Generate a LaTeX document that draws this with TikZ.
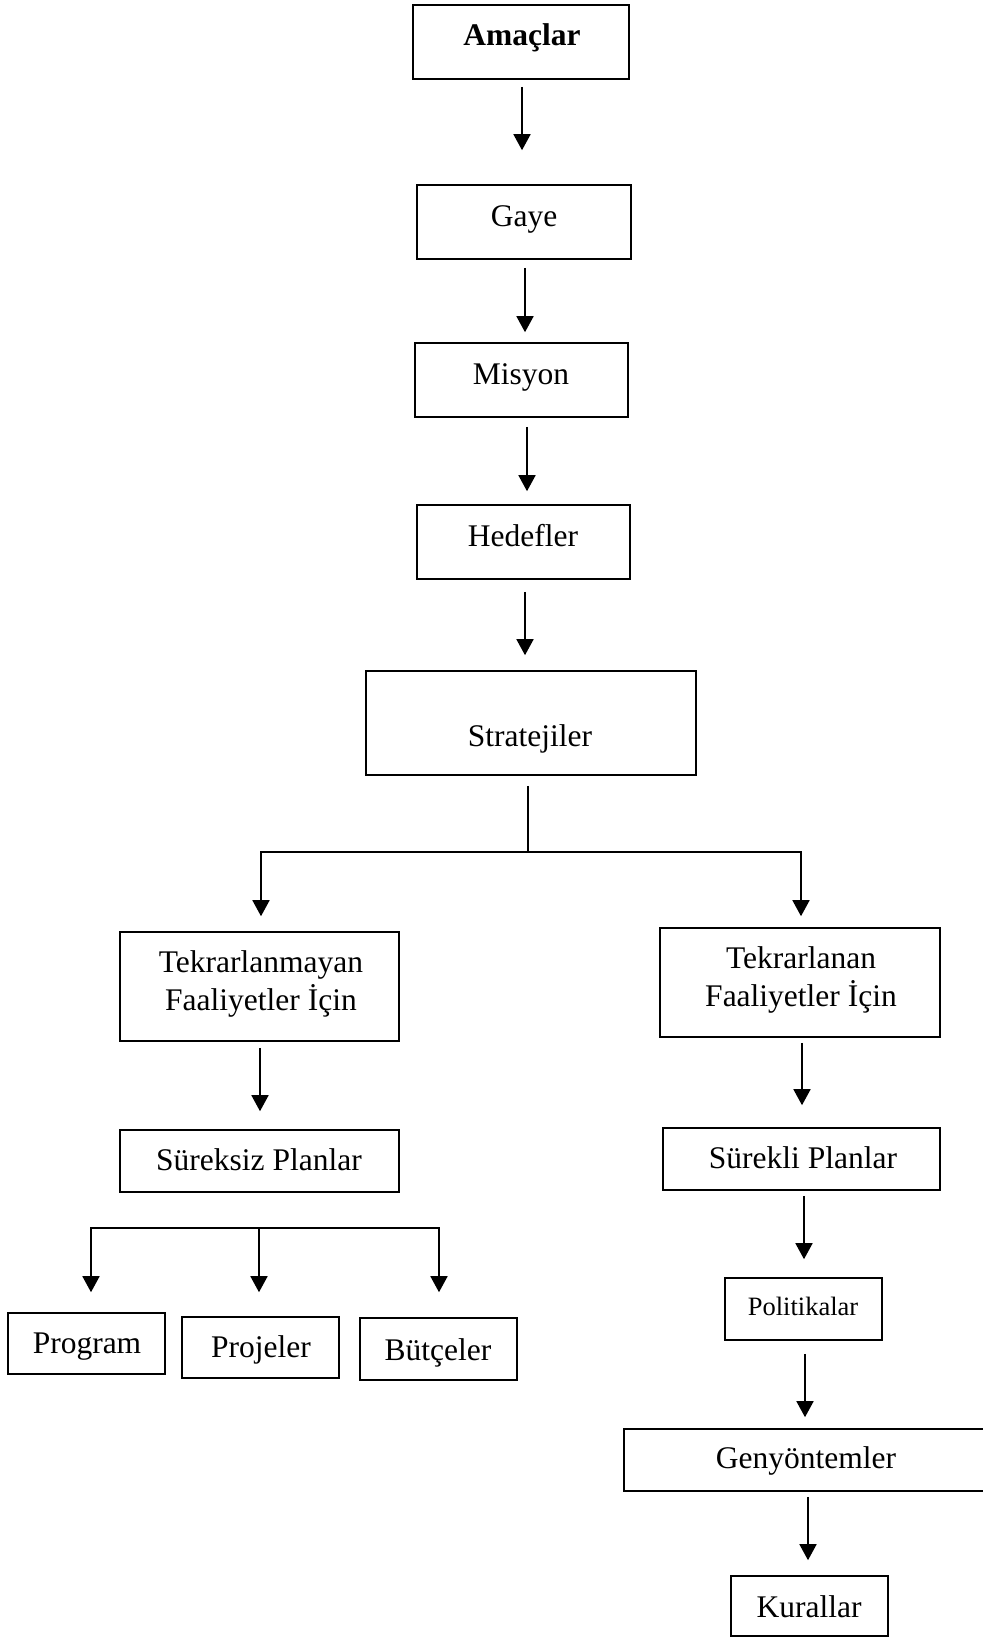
\documentclass[tikz,border=0pt]{standalone}
\usepackage{fontspec}
\setmainfont{Liberation Serif}
\usetikzlibrary{arrows.meta,calc}

\tikzset{
  box/.style={draw, line width=0.8pt, rectangle, inner sep=0pt},
  txt/.style={inner sep=0pt, anchor=base, align=center,
              font=\fontsize{15.75pt}{19pt}\selectfont},
  smalltxt/.style={txt, font=\fontsize{13.25pt}{16pt}\selectfont},
  link/.style={line width=0.8pt},
  arr/.style={link, -{Triangle[width=8.5pt,length=8pt]}}
}

% box: name, centre x, centre y, width, height (all in px, 1px = 0.5pt)
\newcommand\mkbox[5]{%
  \node[box, minimum width=#4*0.5pt, minimum height=#5*0.5pt] (#1) at (#2,#3) {};}

\begin{document}
\begin{tikzpicture}[x=0.5pt, y=-0.5pt]
  \useasboundingbox (0,0) rectangle (983,1638);
  \fill[white] (0,0) rectangle (983,1638);

  % main column
  \mkbox{amaclar}{521}{42}{216}{74}
  \mkbox{gaye}{524}{222}{214}{74}
  \mkbox{misyon}{521.5}{380}{213}{74}
  \mkbox{hedefler}{523.5}{542}{213}{74}
  \mkbox{strat}{531}{723}{330}{104}

  % two branches
  \mkbox{tekmay}{259.5}{986.5}{279}{109}
  \mkbox{tekran}{800}{982.5}{280}{109}
  \mkbox{sureksiz}{259.5}{1161}{279}{62}
  \mkbox{surekli}{801.5}{1159}{277}{62}

  % non-recurring plans
  \mkbox{program}{86.5}{1343.5}{157}{61}
  \mkbox{projeler}{260.5}{1347.5}{157}{61}
  \mkbox{butceler}{438.5}{1349}{157}{62}

  % standing plans
  \mkbox{politikalar}{803.5}{1309}{157}{62}
  \mkbox{genyon}{807}{1460}{366}{62}
  \mkbox{kurallar}{809.5}{1606}{157}{60}

  % labels (two-line labels are placed by the baseline of their last line)
  \node[txt] (amaclar-t) at (522,46) {\textbf{Amaçlar}};
  \node[txt] (gaye-t) at (524,226) {Gaye};
  \node[txt] (misyon-t) at (521,384) {Misyon};
  \node[txt] (hedefler-t) at (523,546) {Hedefler};
  \node[txt] (strat-t) at (530,746) {Stratejiler};
  \node[txt] (tekmay-t) at (261,1010) {Tekrarlanmayan\\Faaliyetler İçin};
  \node[txt] (tekran-t) at (801,1006) {Tekrarlanan\\Faaliyetler İçin};
  \node[txt] (sureksiz-t) at (259,1170) {Süreksiz Planlar};
  \node[txt] (surekli-t) at (803,1168) {Sürekli Planlar};
  \node[txt] (program-t) at (87,1353) {Program};
  \node[txt] (projeler-t) at (261,1357) {Projeler};
  \node[txt] (butceler-t) at (438,1360) {Bütçeler};
  \node[smalltxt] (politikalar-t) at (803,1315) {Politikalar};
  \node[txt] (genyon-t) at (806,1468) {Genyöntemler};
  \node[txt] (kurallar-t) at (809,1617) {Kurallar};

  % main column connectors
  \draw[arr] ($(amaclar.south)+(1,7)$) -- ($(gaye.north)+(-2,-34)$);
  \draw[arr] ($(gaye.south)+(1,8)$) -- ($(misyon.north)+(3.5,-10)$);
  \draw[arr] ($(misyon.south)+(5.5,9)$) -- ($(hedefler.north)+(3.5,-13)$);
  \draw[arr] ($(hedefler.south)+(1.5,12)$) -- ($(strat.north)+(-6,-15)$);

  % split below the strategies
  \coordinate (sj) at (528,852);
  \draw[link] ($(strat.south)+(-3,10)$) -- (sj);
  \draw[arr] (sj) -| ($(tekmay.north)+(1.5,-15)$);
  \draw[arr] (sj) -| ($(tekran.north)+(1,-11)$);

  \draw[arr] ($(tekmay.south)+(0.5,6)$) -- ($(sureksiz.north)+(0.5,-18)$);
  \draw[arr] ($(tekran.south)+(2,5)$) -- ($(surekli.north)+(0.5,-22)$);

  % fan-out to the non-recurring plans
  \coordinate (sp) at (259,1228);
  \draw[arr] (sp) -| ($(program.north)+(4.5,-20)$);
  \draw[arr] (sp) -- ($(projeler.north)+(-1.5,-24)$);
  \draw[arr] (sp) -| ($(butceler.north)+(0.5,-25)$);

  % standing plans chain
  \draw[arr] ($(surekli.south)+(2.5,5)$) -- ($(politikalar.north)+(0.5,-18)$);
  \draw[arr] ($(politikalar.south)+(1.5,13)$) -- ($(genyon.north)+(-2,-11)$);
  \draw[arr] ($(genyon.south)+(1,5)$) -- ($(kurallar.north)+(-1.5,-15)$);
\end{tikzpicture}
\end{document}
